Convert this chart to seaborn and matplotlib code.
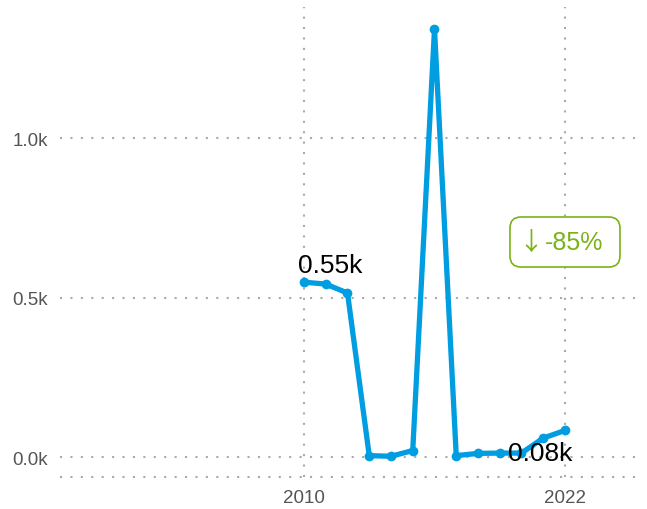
import numpy as np
import pandas as pd
import matplotlib
matplotlib.use("Agg")
import matplotlib.pyplot as plt
import seaborn as sns
from matplotlib.ticker import FuncFormatter
from matplotlib.patches import FancyBboxPatch

# data
years = [2010, 2011, 2012, 2013, 2014, 2015, 2016, 2017, 2018, 2019, 2020, 2021, 2022]
values = [549, 543, 515, 5, 3, 21, 1343, 5, 12, 13, 13, 60, 84]
x_ticks = [2010, 2022]
y_ticks = [0, 500, 1000]

LINE = "#009ee0"
GREEN = "#7ab317"
GRID = "#aaaaaa"
TEXT = "#555555"

sns.set_theme(style="white")
plt.rcParams["font.family"] = ["Liberation Sans", "DejaVu Sans"]

df = pd.DataFrame({"year": years, "value": values})

fig = plt.figure(figsize=(6.47, 5.10), dpi=100)
ax = fig.add_axes([60 / 647, 32 / 510, 580 / 647, 470 / 510])

sns.lineplot(data=df, x="year", y="value", ax=ax, color=LINE, linewidth=3.8,
             marker="o", markersize=7, markeredgewidth=0, zorder=3)

ax.set_xlim(1998.78, 2025.45)
ax.set_ylim(-62, 1412)
ax.set_xticks(x_ticks)
ax.set_yticks(y_ticks)
ax.yaxis.set_major_formatter(FuncFormatter(lambda v, p: f"{v / 1000:.1f}k"))
ax.tick_params(axis="both", length=0, labelsize=13.5, labelcolor=TEXT, pad=8.5)
ax.set_xlabel("")
ax.set_ylabel("")

dots = (0, (1, 4))
ax.grid(True, color=GRID, linestyle=dots, linewidth=1.5)
for side in ["left", "right", "top", "bottom"]:
    ax.spines[side].set_visible(False)
# dotted baseline along the bottom of the plot area
ax.axhline(ax.get_ylim()[0], color=GRID, linestyle=dots, linewidth=1.5, clip_on=False)

# first / last value labels
ax.annotate(f"{values[0] / 1000:.2f}k", (years[0], values[0]), xytext=(-4.5, 7),
            textcoords="offset points", ha="left", va="baseline", fontsize=19, color="black")
ax.annotate(f"{values[-1] / 1000:.2f}k", (years[-1], values[-1]), xytext=(5, -21),
            textcoords="offset points", ha="right", va="baseline", fontsize=19, color="black",
            zorder=4)

# change badge
pct = (values[-1] - values[0]) / values[0] * 100
badge_y = 675
px, py = ax.transData.transform((years[-1], badge_y))
box = FancyBboxPatch((px - 55, py - 25), 110, 50, boxstyle="round,pad=0,rounding_size=11",
                     fc="white", ec=GREEN, lw=1.2, transform=None, zorder=5)
fig.patches.append(box)
fig.text(px - 34, py, "↓", ha="center", va="center", fontsize=18, color=GREEN,
         family=["Noto Sans CJK SC", "DejaVu Sans"], transform=None, zorder=6)
fig.text(px - 20, py, f"-{abs(pct):.0f}%", ha="left", va="center", fontsize=18,
         color=GREEN, transform=None, zorder=6)

plt.savefig("out.png", dpi=100)
